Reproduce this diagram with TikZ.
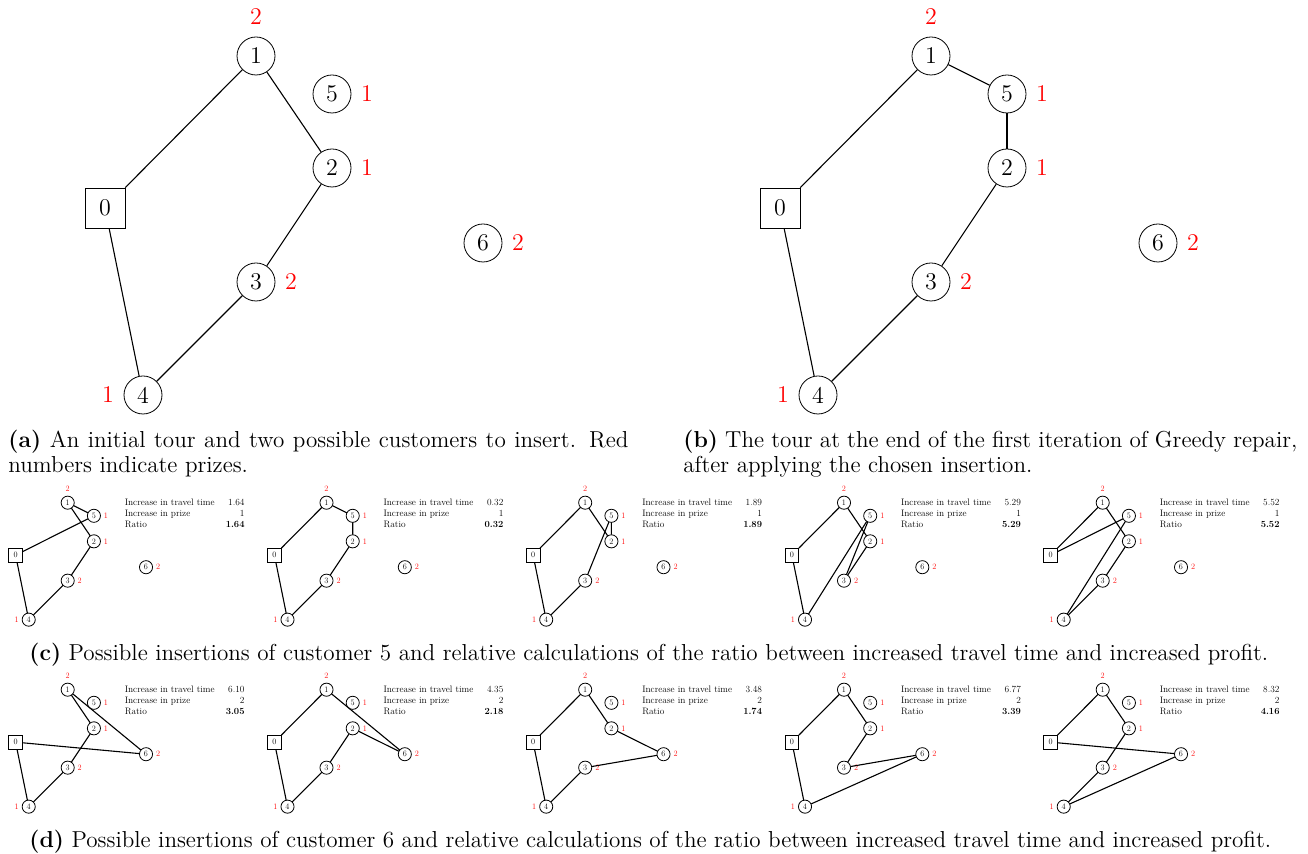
\documentclass[tikz,border=0pt]{standalone}
\begin{document}
\tikzset{
 cust/.style={circle, draw, minimum size=19pt, inner sep=0pt, font=\large},
 depot/.style={rectangle, draw, minimum size=20pt, inner sep=0pt, font=\large},
 prize/.style={text=red, font=\large, inner sep=0pt},
 tourline/.style={line width=0.55pt},
 tabtext/.style={font=\fontsize{13.6}{16}\selectfont, inner sep=0pt, text height=9pt, text depth=3pt},
 captext/.style={anchor=base west, inner sep=0pt, font=\fontsize{11.55}{12.5}\selectfont}
}
\newcommand\tourgraph[1]{%
 \node[cust] (#1-1) at (0,0) {1};
 \node[cust] (#1-5) at (76,38) {5};
 \node[cust] (#1-2) at (76,112) {2};
 \node[depot] (#1-0) at (-151,152) {0};
 \node[cust] (#1-6) at (227,187) {6};
 \node[cust] (#1-3) at (0,226) {3};
 \node[cust] (#1-4) at (-113,339) {4};
 \node[prize] (#1-p1) at (0,-39) {2};
 \node[prize] (#1-p5) at (111,38) {1};
 \node[prize] (#1-p2) at (111,112) {1};
 \node[prize] (#1-p6) at (262,187) {2};
 \node[prize] (#1-p3) at (35,226) {2};
 \node[prize] (#1-p4) at (-148,339) {1};
}
\newcommand\smallpanel[7]{%
 \begin{scope}[shift={(#2,#3)}, scale=0.345, transform shape]
  \tourgraph{#1}
  \foreach \u/\v in {#4} \draw[tourline] (#1-\u) -- (#1-\v);
  \node[tabtext, anchor=west] (#1-t1) at (165,3) {Increase in travel time};
  \node[tabtext, anchor=west] (#1-t2) at (165,35) {Increase in prize};
  \node[tabtext, anchor=west] (#1-t3) at (165,67) {Ratio};
  \node[tabtext, anchor=east] (#1-v1) at (513,3) {#5};
  \node[tabtext, anchor=east] (#1-v2) at (513,35) {#6};
  \node[tabtext, anchor=east] (#1-v3) at (513,67) {\textbf{#7}};
 \end{scope}}
\begin{tikzpicture}[x=0.5pt, y=-0.5pt]
\useasboundingbox (0,0) rectangle (1308,854);
% (a)
\begin{scope}[shift={(256,56)}]
 \tourgraph{a}
 \foreach \u/\v in {0/1,1/2,2/3,3/4,4/0} \draw[tourline] (a-\u) -- (a-\v);
\end{scope}
% (b)
\begin{scope}[shift={(931,56)}]
 \tourgraph{b}
 \foreach \u/\v in {0/1,1/5,5/2,2/3,3/4,4/0} \draw[tourline] (b-\u) -- (b-\v);
\end{scope}
\node[captext] (capa1) at (8,448) {\makebox[310pt][s]{\textbf{(a)} An initial tour and two possible customers to insert. Red}};
\node[captext] (capa2) at (8,473) {numbers indicate prizes.};
\node[captext] (capb1) at (683,448) {\makebox[307pt][s]{\textbf{(b)} The tour at the end of the first iteration of Greedy repair,}};
\node[captext] (capb2) at (683,473) {after applying the chosen insertion.};
% (c)
\smallpanel{c1}{67.7}{502.7}{0/5,5/1,1/2,2/3,3/4,4/0}{1.64}{1}{1.64}
\smallpanel{c2}{326.5}{502.7}{0/1,1/5,5/2,2/3,3/4,4/0}{0.32}{1}{0.32}
\smallpanel{c3}{585.2}{502.7}{0/1,1/2,2/5,5/3,3/4,4/0}{1.89}{1}{1.89}
\smallpanel{c4}{844}{502.7}{0/1,1/2,2/3,3/5,5/4,4/0}{5.29}{1}{5.29}
\smallpanel{c5}{1102.7}{502.7}{0/1,1/2,2/3,3/4,4/5,5/0}{5.52}{1}{5.52}
\node[captext] (capc) at (29,661) {\textbf{(c)} Possible insertions of customer 5 and relative calculations of the ratio between increased travel time and increased profit.};
% (d)
\smallpanel{d1}{67.7}{689.7}{0/6,6/1,1/2,2/3,3/4,4/0}{6.10}{2}{3.05}
\smallpanel{d2}{326.5}{689.7}{0/1,1/6,6/2,2/3,3/4,4/0}{4.35}{2}{2.18}
\smallpanel{d3}{585.2}{689.7}{0/1,1/2,2/6,6/3,3/4,4/0}{3.48}{2}{1.74}
\smallpanel{d4}{844}{689.7}{0/1,1/2,2/3,3/6,6/4,4/0}{6.77}{2}{3.39}
\smallpanel{d5}{1102.7}{689.7}{0/1,1/2,2/3,3/4,4/6,6/0}{8.32}{2}{4.16}
\node[captext] (capd) at (29,848) {\textbf{(d)} Possible insertions of customer 6 and relative calculations of the ratio between increased travel time and increased profit.};
\end{tikzpicture}
\end{document}
